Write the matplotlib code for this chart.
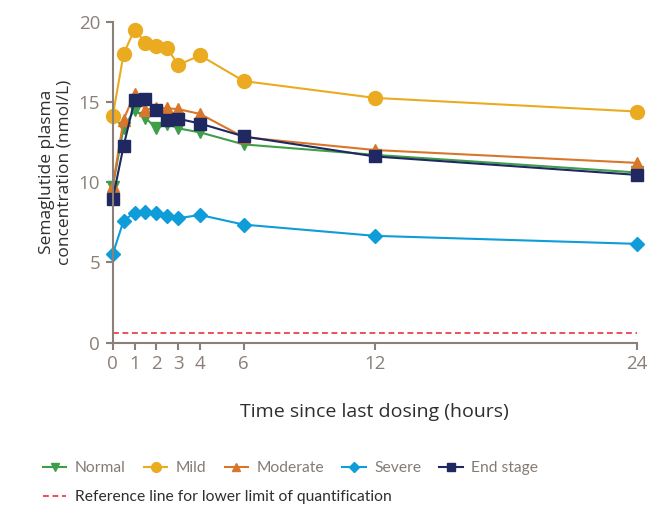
import numpy as np
import matplotlib
matplotlib.use("Agg")
import matplotlib.pyplot as plt
from matplotlib.lines import Line2D

plt.rcParams['font.family'] = ['Open Sans', 'DejaVu Sans']

# time points (hours since last dose)
hours = [0, 0.5, 1, 1.5, 2, 2.5, 3, 4, 6, 12, 24]

# semaglutide plasma concentration (nmol/L) per renal function group
normal = [9.7, 13.4, 14.5, 14.0, 13.35, 13.65, 13.35, 13.1, 12.35, 11.7, 10.6]
mild = [14.1, 18.0, 19.5, 18.7, 18.5, 18.35, 17.3, 17.9, 16.3, 15.25, 14.4]
moderate = [9.75, 13.9, 15.5, 14.5, 14.65, 14.6, 14.55, 14.25, 12.8, 12.0, 11.2]
severe = [5.5, 7.6, 8.1, 8.15, 8.1, 7.9, 7.75, 7.95, 7.35, 6.65, 6.15]
end_stage = [8.95, 12.25, 15.1, 15.15, 14.5, 13.85, 13.95, 13.65, 12.85, 11.6, 10.45]

lloq = 0.61  # lower limit of quantification

series = [
    ('Normal', normal, '#3f9e48', 'v', 9),
    ('Mild', mild, '#ebab21', 'o', 10),
    ('Moderate', moderate, '#d8772b', '^', 9),
    ('Severe', severe, '#0e9dd8', 'D', 7.5),
    ('End stage', end_stage, '#1f2860', 's', 9),
]

AXIS_C = '#8a8079'
TEXT_C = '#2e2e2e'
LEG_C = '#857b74'

fig = plt.figure(figsize=(6.67, 5.08), dpi=100)
ax = fig.add_axes([112.7/667, 1-342.5/508, (636.7-112.7)/667, (342.5-21.7)/508])

handles = []
for name, vals, col, mk, ms in series:
    ax.plot(hours, vals, color=col, marker=mk, markersize=ms, linewidth=1.5,
            clip_on=False, label=name)
    handles.append(Line2D([], [], color=col, marker=mk, markersize=ms*0.7,
                          linewidth=1.5, label=name))

ax.plot([0, 24], [lloq, lloq], color='#e8323c', linestyle=(0, (3.5, 2.2)),
        linewidth=1.2)

ax.set_xlim(0, 24)
ax.set_ylim(0, 20)
ax.set_xticks([0, 1, 2, 3, 4, 6, 12, 24])
ax.set_yticks([0, 5, 10, 15, 20])
for s in ['top', 'right']:
    ax.spines[s].set_visible(False)
for s in ['left', 'bottom']:
    ax.spines[s].set_color(AXIS_C)
    ax.spines[s].set_linewidth(1.5)
ax.tick_params(colors=AXIS_C, labelcolor=AXIS_C, labelsize=13.5, length=5,
               width=1.5, pad=4)

ax.set_xlabel('Time since last dosing (hours)', fontsize=14, color=TEXT_C)
ax.xaxis.set_label_coords(0.5, -(412 - 342.5) / 320.8)
ax.xaxis.label.set_va('center')
ax.set_ylabel('Semaglutide plasma\nconcentration (nmol/L)', fontsize=12.5,
              color=TEXT_C, linespacing=1.1)
ax.yaxis.set_label_coords((56 - 112.7) / 524, (342.5 - 172) / 320.8)
ax.yaxis.label.set_va('center')

leg_font = {'family': ['Lato', 'DejaVu Sans'], 'size': 11.25}

leg1 = fig.legend(handles=handles, loc='center left', ncol=5,
                  bbox_to_anchor=(43/667, 1-468/508), frameon=False,
                  prop=leg_font, handlelength=1.5, handletextpad=0.55,
                  columnspacing=1.15, borderpad=0, borderaxespad=0)
for t in leg1.get_texts():
    t.set_color(LEG_C)

ref = Line2D([], [], color='#e8323c', linestyle=(0, (3.5, 2.2)), linewidth=1.2,
             label='Reference line for lower limit of quantification')
leg2 = fig.legend(handles=[ref], loc='center left',
                  bbox_to_anchor=(43/667, 1-497/508), frameon=False,
                  prop=leg_font, handlelength=1.5, handletextpad=0.55,
                  borderpad=0, borderaxespad=0)
for t in leg2.get_texts():
    t.set_color(TEXT_C)

fig.savefig('out.png', dpi=100)
